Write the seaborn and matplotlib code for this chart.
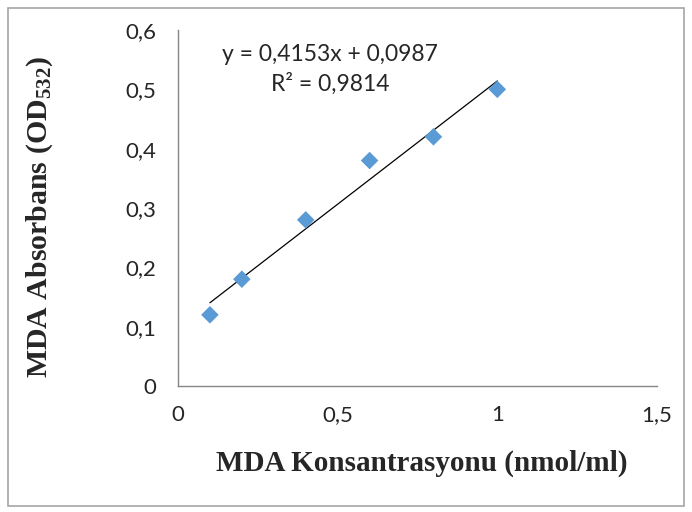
import pandas as pd
import seaborn as sns
import matplotlib.pyplot as plt
from matplotlib.patches import Rectangle

# data
konsantrasyon = [0.1, 0.2, 0.4, 0.6, 0.8, 1.0]
absorbans = [0.12, 0.18, 0.28, 0.38, 0.42, 0.50]
x_ticks = [0, 0.5, 1, 1.5]
x_tick_labels = ['0', '0,5', '1', '1,5']
y_ticks = [0, 0.1, 0.2, 0.3, 0.4, 0.5, 0.6]
y_tick_labels = ['0', '0,1', '0,2', '0,3', '0,4', '0,5', '0,6']
equation_text = 'y = 0,4153x + 0,0987\nR² = 0,9814'

df = pd.DataFrame({'x': konsantrasyon, 'y': absorbans})

sns.set_style('white')
plt.rcParams['font.family'] = ['Lato', 'DejaVu Sans']
plt.rcParams['mathtext.fontset'] = 'custom'
plt.rcParams['mathtext.rm'] = 'Liberation Serif:bold'
plt.rcParams['mathtext.it'] = 'Liberation Serif:bold'
plt.rcParams['mathtext.bf'] = 'Liberation Serif:bold'

fig = plt.figure(figsize=(6.92, 5.12), dpi=100)
ax = fig.add_axes([0.2572, 0.2461, 0.6922, 0.6953])

# outer chart border
fig.patches.append(Rectangle((8 / 692, 6 / 512), 676 / 692, 498 / 512,
                             transform=fig.transFigure, fill=False,
                             edgecolor='#a6a6a6', linewidth=1.2))

# linear trend line
sns.regplot(data=df, x='x', y='y', ax=ax, scatter=False, ci=None,
            truncate=True, line_kws={'color': 'black', 'linewidth': 0.9})
sns.scatterplot(data=df, x='x', y='y', ax=ax, marker='D', s=80,
                color='#5b9bd5', edgecolor='none', zorder=3)

ax.set_xlim(0, 1.5)
ax.set_ylim(0, 0.6)
ax.set_xticks(x_ticks)
ax.set_xticklabels(x_tick_labels)
ax.set_yticks(y_ticks)
ax.set_yticklabels(y_tick_labels)
ax.tick_params(axis='both', labelsize=16, length=5, width=1,
               color='#868686', pad=10.5, direction='out')
ax.tick_params(axis='x', pad=9)
for side in ['top', 'right']:
    ax.spines[side].set_visible(False)
for side in ['left', 'bottom']:
    ax.spines[side].set_color('#868686')
    ax.spines[side].set_linewidth(1)

ax.set_xlabel('MDA Konsantrasyonu (nmol/ml)', family='Liberation Serif',
              fontweight='bold', fontsize=21, va='center', ha='center')
ax.set_ylabel('MDA Absorbans (OD$_{532}$)', family='Liberation Serif',
              fontweight='bold', fontsize=21.5, va='center', ha='center')
ax.xaxis.set_label_coords(0.508, -0.216)
ax.yaxis.set_label_coords(-0.288, 0.475)

ax.text(0.476, 0.5335, equation_text, ha='center', va='center',
        fontsize=16.5, linespacing=1.45)

fig.savefig('out.png', dpi=100)
